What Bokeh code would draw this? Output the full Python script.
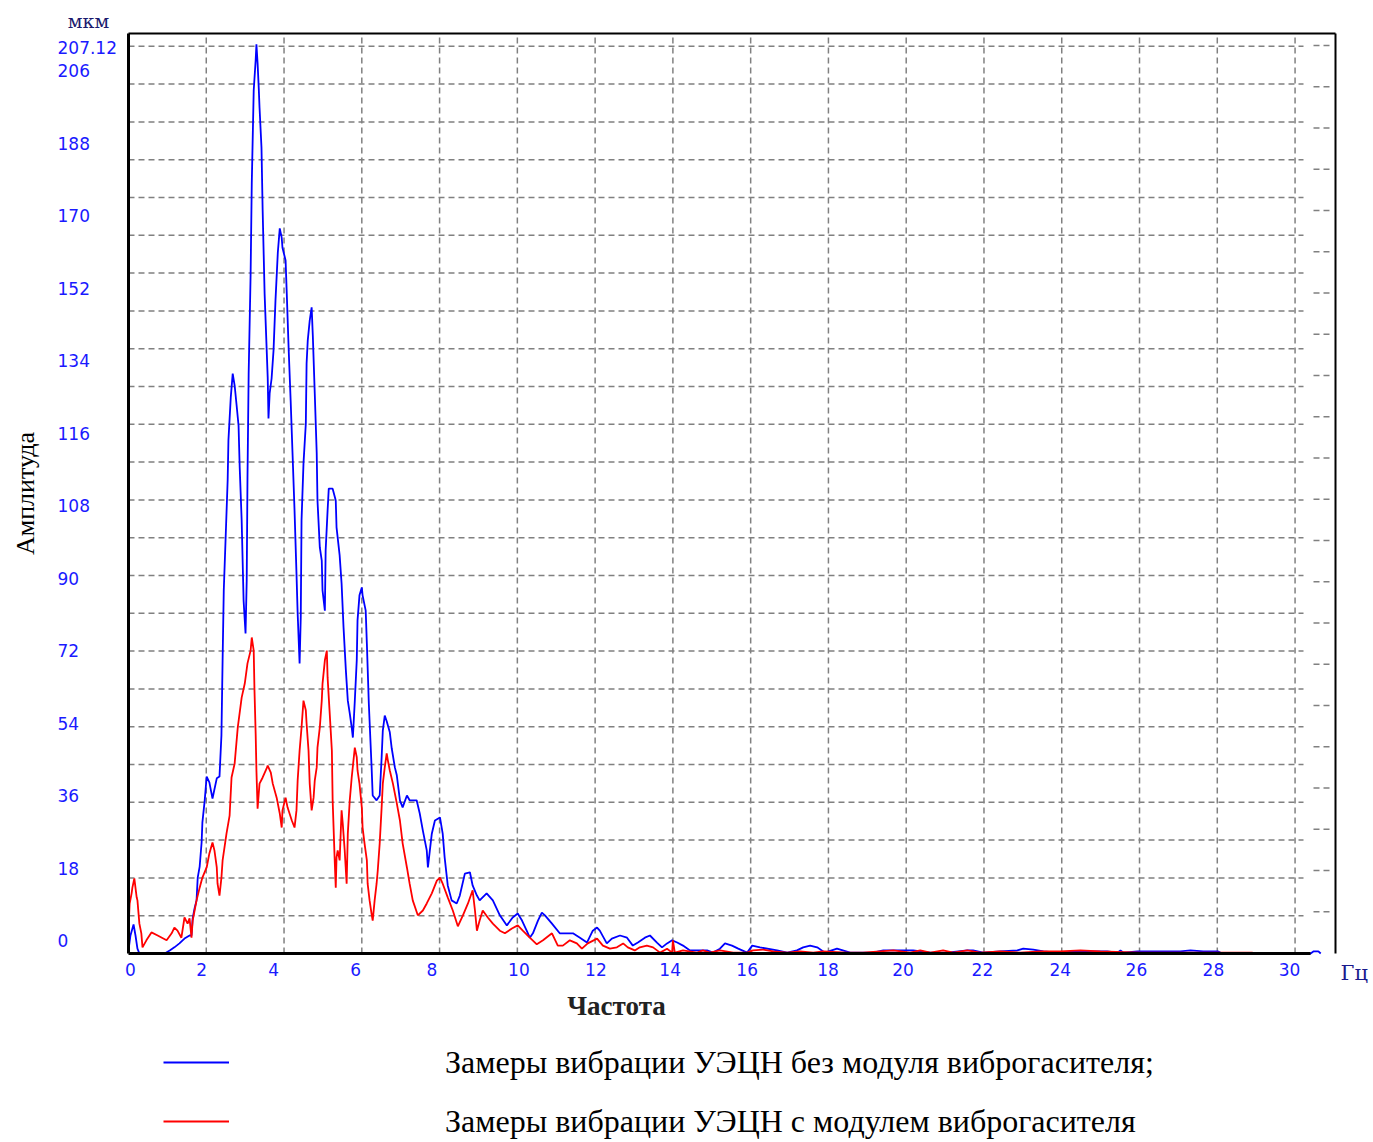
import math
from bokeh.plotting import figure
from bokeh.models import Range1d, Legend, LegendItem
from bokeh.core.properties import value
from bokeh.embed import file_html
from bokeh.resources import INLINE

# ---------------- data ----------------
freq_blue = [0, 0.05, 0.13, 0.18, 0.23, 0.28, 0.93, 1.06, 1.18, 1.31,
             1.44, 1.57, 1.62, 1.65, 1.70, 1.75, 1.78, 1.83, 1.88, 1.90,
             1.96, 2.01, 2.08, 2.16, 2.27, 2.34, 2.39, 2.42, 2.45, 2.50,
             2.55, 2.57, 2.63, 2.68, 2.73, 2.78, 2.83, 2.86, 2.91, 2.96,
             3.01, 3.04, 3.06, 3.09, 3.14, 3.17, 3.22, 3.27, 3.29, 3.32,
             3.35, 3.37, 3.42, 3.45, 3.50, 3.58, 3.60, 3.63, 3.68, 3.73,
             3.78, 3.84, 3.89, 3.94, 3.96, 4.04, 4.07, 4.12, 4.17, 4.22,
             4.27, 4.32, 4.35, 4.40, 4.43, 4.45, 4.50, 4.56, 4.58, 4.61,
             4.66, 4.71, 4.74, 4.79, 4.84, 4.86, 4.92, 4.97, 4.99, 5.05,
             5.07, 5.12, 5.15, 5.25, 5.33, 5.35, 5.43, 5.48, 5.53, 5.59,
             5.64, 5.69, 5.74, 5.77, 5.82, 5.87, 5.89, 5.94, 6.00, 6.02,
             6.10, 6.13, 6.18, 6.25, 6.28, 6.38, 6.46, 6.51, 6.54, 6.59,
             6.64, 6.72, 6.77, 6.85, 6.90, 6.98, 7.05, 7.16, 7.23, 7.41,
             7.49, 7.57, 7.67, 7.70, 7.75, 7.80, 7.88, 8.01, 8.08, 8.13,
             8.21, 8.31, 8.44, 8.52, 8.65, 8.78, 8.85, 8.96, 9.03, 9.21,
             9.37, 9.55, 9.73, 9.88, 10.01, 10.12, 10.24, 10.32, 10.40, 10.53,
             10.63, 10.71, 10.89, 11.09, 11.43, 11.61, 11.79, 11.94, 12.05, 12.12,
             12.30, 12.43, 12.64, 12.82, 12.97, 13.10, 13.28, 13.41, 13.59, 13.72,
             13.85, 13.98, 14.11, 14.26, 14.44, 14.88, 15.03, 15.21, 15.34, 15.52,
             15.68, 15.91, 16.04, 16.24, 16.68, 16.94, 17.19, 17.35, 17.53, 17.71,
             17.91, 18.22, 18.56, 19.15, 19.41, 20.18, 20.62, 21.06, 21.57, 21.72,
             21.98, 22.42, 22.86, 23.01, 23.27, 23.53, 23.89, 24.40, 24.81, 25.17,
             25.43, 25.51, 25.59, 25.95, 26.46, 27.05, 27.31, 27.64, 28.01, 28.08,
             28.60, 30.40, 30.48, 30.60, 30.66]
amp_blue = [0.7, 4.1, 6.6, 4.1, 1.1, 0, 0, 0.7, 1.4, 2.3,
            3.4, 4.1, 4.1, 8.0, 10.3, 12.1, 17.3, 19.8, 25.3, 29.8,
            34.9, 40.3, 39.0, 35.3, 39.9, 40.3, 49.7, 66.8, 82.7, 95.2,
            107.8, 116.9, 126.7, 132.1, 129.4, 124.9, 120.3, 110.7, 98.7, 80.4,
            72.9, 85.0, 108.4, 132.1, 154.5, 175.4, 196.6, 203.5, 207.12, 202.8,
            197.1, 192.7, 183.6, 169.3, 150.4, 131.2, 121.9, 127.6, 131.0, 137.4,
            148.8, 159.7, 165.2, 163.1, 160.8, 157.9, 150.4, 137.4, 126.0, 113.5,
            100.9, 86.6, 77.5, 66.1, 76.6, 98.7, 111.6, 120.7, 134.4, 139.7,
            144.2, 147.2, 140.8, 127.6, 114.1, 103.2, 92.5, 89.5, 82.7, 78.1,
            91.8, 100.9, 105.9, 105.9, 103.2, 97.1, 90.7, 84.3, 74.3, 64.5,
            57.6, 54.7, 51.5, 49.2, 57.6, 66.8, 75.9, 81.6, 83.4, 81.6,
            78.1, 70.6, 57.0, 42.8, 36.0, 34.9, 36.0, 44.7, 50.8, 54.2,
            52.9, 50.4, 46.7, 42.4, 40.6, 34.9, 33.3, 36.0, 34.9, 34.9,
            31.9, 28.0, 23.5, 19.6, 23.5, 27.3, 30.3, 31.0, 27.3, 21.9,
            15.5, 12.1, 11.4, 13.2, 18.2, 18.5, 15.5, 13.2, 12.1, 13.7,
            12.1, 8.7, 6.4, 8.2, 9.1, 7.5, 5.2, 3.6, 4.6, 7.5,
            9.3, 8.7, 6.8, 4.6, 4.6, 3.6, 2.5, 5.2, 5.9, 5.2,
            2.3, 3.4, 4.1, 3.6, 1.8, 2.5, 3.6, 4.1, 2.5, 1.4,
            2.3, 3.0, 2.5, 1.8, 0.7, 0.7, 0.2, 1.1, 2.3, 1.8,
            1.1, 0.2, 1.8, 1.4, 0.7, 0.2, 0.7, 1.4, 1.8, 1.4,
            0.2, 1.1, 0.2, 0.2, 0.7, 0.7, 0.2, 0.2, 0.7, 0.7,
            0.2, 0.5, 0.7, 1.1, 0.9, 0.5, 0.2, 0.5, 0.5, 0.5,
            0.2, 0.7, 0.2, 0.5, 0.5, 0.5, 0.7, 0.5, 0.5, 0.2,
            0, 0, 0.5, 0.5, 0]

freq_red = [0, 0.03, 0.08, 0.10, 0.15, 0.21, 0.23, 0.28, 0.33, 0.36,
            0.46, 0.59, 0.75, 0.98, 1.11, 1.18, 1.26, 1.36, 1.44, 1.52,
            1.57, 1.62, 1.65, 1.70, 1.75, 1.83, 1.90, 2.01, 2.08, 2.16,
            2.21, 2.27, 2.29, 2.34, 2.39, 2.42, 2.52, 2.60, 2.65, 2.73,
            2.81, 2.91, 2.99, 3.06, 3.14, 3.17, 3.22, 3.24, 3.27, 3.29,
            3.32, 3.35, 3.37, 3.45, 3.55, 3.58, 3.66, 3.71, 3.81, 3.89,
            3.94, 3.96, 4.04, 4.09, 4.20, 4.27, 4.32, 4.35, 4.40, 4.45,
            4.50, 4.56, 4.58, 4.63, 4.66, 4.71, 4.76, 4.79, 4.84, 4.86,
            4.92, 4.97, 4.99, 5.05, 5.10, 5.12, 5.17, 5.23, 5.25, 5.30,
            5.33, 5.35, 5.38, 5.43, 5.48, 5.51, 5.56, 5.61, 5.64, 5.69,
            5.74, 5.82, 5.87, 5.89, 5.94, 6.00, 6.02, 6.07, 6.13, 6.15,
            6.20, 6.25, 6.28, 6.33, 6.38, 6.41, 6.46, 6.51, 6.54, 6.59,
            6.64, 6.67, 6.72, 6.80, 6.90, 6.98, 7.05, 7.16, 7.23, 7.31,
            7.44, 7.57, 7.67, 7.80, 7.93, 8.01, 8.08, 8.21, 8.34, 8.47,
            8.60, 8.73, 8.85, 8.91, 8.96, 9.03, 9.11, 9.24, 9.37, 9.55,
            9.68, 9.86, 10.01, 10.14, 10.32, 10.50, 10.66, 10.89, 11.04, 11.17,
            11.35, 11.53, 11.66, 11.81, 12.05, 12.20, 12.38, 12.56, 12.72, 12.84,
            13.02, 13.15, 13.33, 13.49, 13.67, 13.85, 13.98, 14.00, 14.05, 14.26,
            14.62, 14.77, 14.95, 15.21, 15.55, 15.91, 16.06, 16.32, 16.58, 16.94,
            17.27, 17.61, 17.86, 18.48, 18.89, 19.33, 19.67, 20.10, 20.36, 20.62,
            20.95, 21.21, 21.57, 21.90, 22.42, 22.93, 23.45, 23.96, 24.48, 24.99,
            26.02, 27.57, 28.91]
amp_red = [5.7, 11.4, 13.7, 15.0, 17.1, 12.8, 12.1, 6.8, 4.6, 1.4,
           3.0, 4.8, 4.1, 3.0, 4.6, 5.9, 5.2, 3.6, 8.2, 6.8,
           8.0, 3.6, 7.5, 9.8, 12.1, 15.0, 17.3, 19.6, 22.8, 25.3,
           23.5, 19.6, 15.9, 13.2, 17.3, 21.2, 27.3, 31.4, 40.1, 43.3,
           51.5, 58.3, 61.5, 66.1, 69.0, 72.0, 69.0, 59.9, 50.1, 41.7,
           33.0, 36.5, 38.7, 40.1, 42.1, 42.8, 41.2, 38.7, 35.5, 31.9,
           28.7, 32.6, 35.5, 33.3, 30.3, 28.7, 32.6, 39.4, 46.2, 51.5,
           57.6, 55.4, 52.4, 46.2, 38.7, 32.6, 35.5, 39.4, 42.4, 46.9,
           51.5, 57.6, 61.5, 66.8, 69.0, 62.9, 55.4, 46.2, 34.9, 21.9,
           15.0, 21.9, 23.5, 21.2, 32.6, 29.6, 23.5, 15.9, 27.3, 34.9,
           40.1, 46.9, 44.7, 41.7, 38.7, 33.3, 28.7, 25.1, 21.2, 15.9,
           12.1, 9.1, 7.5, 12.1, 15.9, 18.9, 25.1, 33.3, 38.7, 42.4,
           45.6, 44.0, 41.7, 38.7, 34.2, 30.3, 25.1, 19.6, 15.9, 12.1,
           8.7, 9.8, 11.4, 13.7, 16.6, 17.3, 15.9, 12.8, 9.8, 6.2,
           8.7, 11.4, 14.4, 9.8, 5.2, 7.5, 9.8, 8.2, 6.8, 5.2,
           4.6, 5.7, 6.4, 5.2, 3.6, 2.1, 3.0, 4.6, 1.8, 1.8,
           3.0, 2.3, 1.1, 2.3, 3.4, 1.8, 1.1, 1.4, 2.3, 1.4,
           0.7, 1.4, 1.8, 1.4, 0.2, 1.1, 0.2, 3.0, 0.2, 0.7,
           0.2, 0.7, 0.2, 0.7, 0.2, 0.2, 0.7, 0.9, 0.5, 0.2,
           0.5, 0.2, 0.5, 0.2, 0.2, 0.5, 0.7, 0.2, 0.7, 0.2,
           0.7, 0.2, 0.7, 0.2, 0.5, 0.2, 0.5, 0.5, 0.7, 0.5,
           0.2, 0.2, 0.2]

x_tick_labels = ["0", "2", "4", "6", "8", "10", "12", "14", "16", "18",
                 "20", "22", "24", "26", "28", "30"]
y_tick_labels = ["0", "18", "36", "54", "72", "90", "108", "116", "134",
                 "152", "170", "188", "206", "207.12"]
legend_labels = ["Замеры вибрации УЭЦН без модуля виброгасителя;",
                 "Замеры вибрации УЭЦН с модулем виброгасителя"]
x_title, y_title, x_unit, y_unit = "Частота", "Амплитуда", "Гц", "мкм"

# ---------------- layout ----------------
W, H = 1372, 1141
BOX_L, BOX_R, BOX_T, BOX_B = 128, 1335, 33, 953   # plot box in canvas pixels
X_END, Y_END = 31.04, 209.6                        # data extent of the box
KX = (BOX_R - BOX_L) / X_END
KY = (BOX_B - BOX_T) / Y_END


def fx(px):
    return (px - BOX_L) / KX


def fy(py):
    return (BOX_B - py) / KY


x_label_pos = [0.05, 1.88, 3.73, 5.84, 7.80, 10.04, 12.02, 13.93, 15.91, 17.99,
               19.92, 21.96, 23.96, 25.92, 27.90, 29.86]
y_label_pos = [fy(940 - 72.5 * i) for i in range(13)] + [fy(46.5)]

p = figure(width=W, height=H, output_backend="svg", toolbar_location=None,
           x_range=Range1d(fx(0), fx(W)), y_range=Range1d(fy(H), fy(0)),
           x_axis_location=None, y_axis_location=None,
           min_border=0, min_border_left=0, min_border_right=0,
           min_border_top=0, min_border_bottom=0,
           background_fill_color="white", border_fill_color="white")
p.outline_line_color = None
for g in p.grid:
    g.visible = False

GRID = dict(line_color="#808080", line_dash="6 4", line_width=1.5)
# vertical grid lines
vx = list(range(2, 31, 2))
p.segment(x0=vx, y0=0, x1=vx, y1=Y_END, **GRID)
# horizontal grid lines
hy = [fy(BOX_B - 37.8 * n) for n in range(1, 25)]
p.segment(x0=0, y0=hy, x1=fx(1303), y1=hy, **GRID)
# short dashes at the right edge
ry = [fy(45 + 41.25 * i) for i in range(22)]
p.segment(x0=fx(1313), y0=ry, x1=fx(1333), y1=ry, **GRID)

# data series
rb = p.line(freq_blue, amp_blue, line_color="#0000ff", line_width=1.8)
rr = p.line(freq_red, amp_red, line_color="#ff0000", line_width=1.8)

# plot box
p.segment(x0=[0, X_END], y0=[Y_END, 0], x1=[X_END, X_END], y1=[Y_END, Y_END],
          line_color="black", line_width=2)
p.segment(x0=[0, 0], y0=[0, 0], x1=[0, fx(1310)], y1=[Y_END, 0],
          line_color="black", line_width=3)

# tick labels
TICK = dict(text_font=value("DejaVu Sans"), text_font_size="17px",
            text_color="#1a1aff", text_baseline="middle")
p.text(x=x_label_pos, y=fy(969), text=x_tick_labels, text_align="center", **TICK)
p.text(x=fx(57), y=y_label_pos, text=y_tick_labels, text_align="left", **TICK)

# axis titles and units
p.text(x=[fx(616)], y=[fy(1005)], text=[x_title], text_align="center",
       text_baseline="middle", text_font=value("Liberation Serif"),
       text_font_size="27px", text_font_style="bold", text_color="#222222")
p.text(x=[fx(25)], y=[fy(493)], text=[y_title], angle=math.pi / 2,
       text_align="center", text_baseline="middle",
       text_font=value("Liberation Serif"), text_font_size="26px",
       text_color="black")
p.text(x=[fx(1340)], y=[fy(972)], text=[x_unit], text_align="left",
       text_baseline="middle", text_font=value("DejaVu Serif"),
       text_font_size="21px", text_color="#1a1a8c")
p.text(x=[fx(88)], y=[fy(20)], text=[y_unit], text_align="center",
       text_baseline="middle", text_font=value("DejaVu Serif"),
       text_font_size="19px", text_color="#1a1a6e")

# legend
ITEM_H, SPACING = 40, 19
LEG_TOP = 1062 - ITEM_H // 2
leg_h = 2 * ITEM_H + SPACING
legend = Legend(items=[LegendItem(label=legend_labels[0], renderers=[rb]),
                       LegendItem(label=legend_labels[1], renderers=[rr])],
                location=(163, H - (LEG_TOP + leg_h)), orientation="vertical",
                glyph_width=66, glyph_height=ITEM_H, label_height=ITEM_H,
                label_standoff=216, spacing=SPACING, padding=0, margin=0,
                border_line_color=None, background_fill_alpha=0,
                label_text_font="Liberation Serif", label_text_font_size="32px",
                label_text_color="black")
p.add_layout(legend)

open("out.html", "w").write(file_html(p, INLINE))
